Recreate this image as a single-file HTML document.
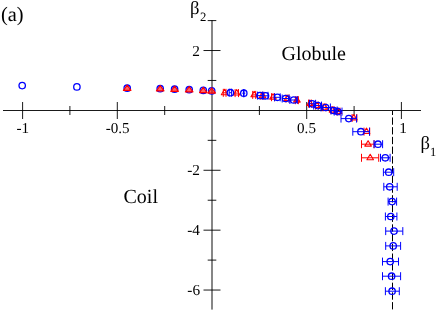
<!DOCTYPE html>
<html><head><meta charset="utf-8"><title>Phase diagram</title>
<style>
html,body{margin:0;padding:0;background:#fff;}
svg{display:block;font-family:"Liberation Serif",serif;will-change:transform;opacity:0.999;}
text{text-rendering:geometricPrecision;}
</style></head>
<body>
<svg width="436" height="311" viewBox="0 0 436 311">
<rect width="436" height="311" fill="#fff"/>
<g>
<path d="M3 110.5H421" stroke="#000" stroke-width="0.9"/>
<path d="M212 20.1V309.6" stroke="#000" stroke-width="0.95"/>
<path d="M22.6 102.0V119.0" stroke="#000" stroke-width="0.9"/>
<path d="M69.9 106.0V115.0" stroke="#000" stroke-width="0.9"/>
<path d="M117.3 102.0V119.0" stroke="#000" stroke-width="0.9"/>
<path d="M164.7 106.0V115.0" stroke="#000" stroke-width="0.9"/>
<path d="M259.4 106.0V115.0" stroke="#000" stroke-width="0.9"/>
<path d="M306.7 102.0V119.0" stroke="#000" stroke-width="0.9"/>
<path d="M354.1 106.0V115.0" stroke="#000" stroke-width="0.9"/>
<path d="M401.4 102.0V119.0" stroke="#000" stroke-width="0.9"/>
<path d="M207.7 20.58H216.3" stroke="#000" stroke-width="0.9"/>
<path d="M203.5 50.52H220.5" stroke="#000" stroke-width="0.9"/>
<path d="M207.7 80.46H216.3" stroke="#000" stroke-width="0.9"/>
<path d="M207.7 140.34H216.3" stroke="#000" stroke-width="0.9"/>
<path d="M203.5 170.28H220.5" stroke="#000" stroke-width="0.9"/>
<path d="M207.7 200.22H216.3" stroke="#000" stroke-width="0.9"/>
<path d="M203.5 230.16H220.5" stroke="#000" stroke-width="0.9"/>
<path d="M207.7 260.1H216.3" stroke="#000" stroke-width="0.9"/>
<path d="M203.5 290.04H220.5" stroke="#000" stroke-width="0.9"/>
<path d="M392.5 111V309.4" stroke="#000" stroke-width="1.0" stroke-dasharray="7.3 2.42" stroke-dashoffset="3.3"/>
</g>
<g fill="#000">

<text x="1.0" y="21.2" font-size="20.4">(a)</text>
<text x="190.1" y="14" font-size="18.6">β</text>
<text x="199.9" y="21.1" font-size="12.7">2</text>
<text x="420.6" y="148.8" font-size="18.6">β</text>
<text x="430.1" y="155.6" font-size="12.5">1</text>
<text x="281.5" y="59.8" font-size="20">Globule</text>
<text x="123.5" y="203" font-size="20">Coil</text>
<g font-size="15.3">
<text x="199.9" y="55.5" text-anchor="end">2</text>
<text x="199.9" y="175.3" text-anchor="end">-2</text>
<text x="199.9" y="235.2" text-anchor="end">-4</text>
<text x="200.1" y="295.0" text-anchor="end">-6</text>
<text x="22.8" y="133.1" font-size="15.1" text-anchor="middle">-1</text>
<text x="117.7" y="133.1" font-size="15.1" text-anchor="middle">-0.5</text>
<text x="306.5" y="133.1" font-size="15.1" text-anchor="middle">0.5</text>
<text x="403" y="132.6" text-anchor="middle">1</text>
</g>

</g>
<g>
<circle cx="22.2" cy="85.6" r="3.2" stroke="#0000ff" stroke-width="1.3" fill="none"/>
<circle cx="76.9" cy="86.9" r="3.2" stroke="#0000ff" stroke-width="1.3" fill="none"/>
<circle cx="127.2" cy="88.2" r="3.2" stroke="#0000ff" stroke-width="1.3" fill="none"/>
<circle cx="160.2" cy="88.7" r="3.2" stroke="#0000ff" stroke-width="1.3" fill="none"/>
<circle cx="174.6" cy="89.2" r="3.2" stroke="#0000ff" stroke-width="1.3" fill="none"/>
<circle cx="189.2" cy="89.7" r="3.2" stroke="#0000ff" stroke-width="1.3" fill="none"/>
<circle cx="203.3" cy="90.4" r="3.2" stroke="#0000ff" stroke-width="1.3" fill="none"/>
<circle cx="211.7" cy="90.9" r="3.2" stroke="#0000ff" stroke-width="1.3" fill="none"/>
<path d="M127.2 85.1L131.0 90.4H123.4Z" stroke="#ff0000" stroke-width="1.1" stroke-linejoin="round" fill="#ff0000" fill-opacity="0.6"/>
<path d="M160.2 85.6L164.0 90.9H156.4Z" stroke="#ff0000" stroke-width="1.1" stroke-linejoin="round" fill="#ff0000" fill-opacity="0.6"/>
<path d="M174.6 86.1L178.4 91.4H170.8Z" stroke="#ff0000" stroke-width="1.1" stroke-linejoin="round" fill="#ff0000" fill-opacity="0.6"/>
<path d="M189.2 86.6L193.0 91.9H185.4Z" stroke="#ff0000" stroke-width="1.1" stroke-linejoin="round" fill="#ff0000" fill-opacity="0.6"/>
<path d="M203.3 87.3L207.1 92.6H199.5Z" stroke="#ff0000" stroke-width="1.1" stroke-linejoin="round" fill="#ff0000" fill-opacity="0.6"/>
<path d="M211.7 87.8L215.5 93.1H207.9Z" stroke="#ff0000" stroke-width="1.1" stroke-linejoin="round" fill="#ff0000" fill-opacity="0.6"/>
<path d="M223.3 92.8H226.0M223.3 88.8V96.8M226.0 88.8V96.8" stroke="#ff0000" stroke-width="1.0" fill="none"/>
<path d="M224.6 89.3L227.9 94.7H221.3Z" stroke="#ff0000" stroke-width="1.1" stroke-linejoin="round" fill="none"/>
<path d="M235.1 93.1H238.5M235.1 89.1V97.1M238.5 89.1V97.1" stroke="#ff0000" stroke-width="1.0" fill="none"/>
<path d="M236.7 89.6L240.0 95.0H233.4Z" stroke="#ff0000" stroke-width="1.1" stroke-linejoin="round" fill="none"/>
<path d="M252.7 94.9H255.7M252.7 90.9V98.9M255.7 90.9V98.9" stroke="#ff0000" stroke-width="1.0" fill="none"/>
<path d="M254.2 91.4L257.5 96.8H250.9Z" stroke="#ff0000" stroke-width="1.1" stroke-linejoin="round" fill="none"/>
<path d="M261.0 95.8H264.0M261.0 91.8V99.8M264.0 91.8V99.8" stroke="#ff0000" stroke-width="1.0" fill="none"/>
<path d="M262.5 92.3L265.8 97.7H259.2Z" stroke="#ff0000" stroke-width="1.1" stroke-linejoin="round" fill="none"/>
<path d="M271.5 97.2H274.5M271.5 93.2V101.2M274.5 93.2V101.2" stroke="#ff0000" stroke-width="1.0" fill="none"/>
<path d="M273.0 93.7L276.3 99.1H269.7Z" stroke="#ff0000" stroke-width="1.1" stroke-linejoin="round" fill="none"/>
<path d="M286.0 98.6H289.0M286.0 94.6V102.6M289.0 94.6V102.6" stroke="#ff0000" stroke-width="1.0" fill="none"/>
<path d="M287.5 95.1L290.8 100.5H284.2Z" stroke="#ff0000" stroke-width="1.1" stroke-linejoin="round" fill="none"/>
<path d="M295.4 100.2H298.4M295.4 96.2V104.2M298.4 96.2V104.2" stroke="#ff0000" stroke-width="1.0" fill="none"/>
<path d="M296.9 96.7L300.2 102.1H293.6Z" stroke="#ff0000" stroke-width="1.1" stroke-linejoin="round" fill="none"/>
<path d="M308.5 103.6H311.5M308.5 99.6V107.6M311.5 99.6V107.6" stroke="#ff0000" stroke-width="1.0" fill="none"/>
<path d="M310.0 100.1L313.3 105.5H306.7Z" stroke="#ff0000" stroke-width="1.1" stroke-linejoin="round" fill="none"/>
<path d="M315.5 105.6H318.5M315.5 101.6V109.6M318.5 101.6V109.6" stroke="#ff0000" stroke-width="1.0" fill="none"/>
<path d="M317.0 102.1L320.3 107.5H313.7Z" stroke="#ff0000" stroke-width="1.1" stroke-linejoin="round" fill="none"/>
<path d="M323.0 107.4H326.0M323.0 103.4V111.4M326.0 103.4V111.4" stroke="#ff0000" stroke-width="1.0" fill="none"/>
<path d="M324.5 103.9L327.8 109.3H321.2Z" stroke="#ff0000" stroke-width="1.1" stroke-linejoin="round" fill="none"/>
<path d="M331.0 110.2H334.0M331.0 106.2V114.2M334.0 106.2V114.2" stroke="#ff0000" stroke-width="1.0" fill="none"/>
<path d="M332.5 106.7L335.8 112.1H329.2Z" stroke="#ff0000" stroke-width="1.1" stroke-linejoin="round" fill="none"/>
<path d="M337.0 111.6H340.0M337.0 107.6V115.6M340.0 107.6V115.6" stroke="#ff0000" stroke-width="1.0" fill="none"/>
<path d="M338.5 108.1L341.8 113.5H335.2Z" stroke="#ff0000" stroke-width="1.1" stroke-linejoin="round" fill="none"/>
<path d="M352.1 118.0H356.8M352.1 114.0V122.0M356.8 114.0V122.0" stroke="#ff0000" stroke-width="1.0" fill="none"/>
<path d="M353.8 114.5L357.1 119.9H350.5Z" stroke="#ff0000" stroke-width="1.1" stroke-linejoin="round" fill="none"/>
<path d="M364.0 131.6H369.7M364.0 127.6V135.6M369.7 127.6V135.6" stroke="#ff0000" stroke-width="1.0" fill="none"/>
<path d="M366.5 128.1L369.8 133.5H363.2Z" stroke="#ff0000" stroke-width="1.1" stroke-linejoin="round" fill="none"/>
<path d="M361.5 144.2H374.1M361.5 140.2V148.2M374.1 140.2V148.2" stroke="#ff0000" stroke-width="1.0" fill="none"/>
<path d="M368.1 140.7L371.4 146.1H364.8Z" stroke="#ff0000" stroke-width="1.1" stroke-linejoin="round" fill="none"/>
<path d="M361.5 157.8H378.7M361.5 153.8V161.8M378.7 153.8V161.8" stroke="#ff0000" stroke-width="1.0" fill="none"/>
<path d="M370.2 154.3L373.5 159.7H366.9Z" stroke="#ff0000" stroke-width="1.1" stroke-linejoin="round" fill="none"/>
<path d="M229.2 92.7H231.6M229.2 88.7V96.7M231.6 88.7V96.7" stroke="#0000ff" stroke-width="1.0" fill="none"/>
<circle cx="230.4" cy="92.7" r="3.2" stroke="#0000ff" stroke-width="1.3" fill="none"/>
<path d="M243.5 93.2H244.1M243.5 89.2V97.2M244.1 89.2V97.2" stroke="#0000ff" stroke-width="1.0" fill="none"/>
<circle cx="243.8" cy="93.2" r="3.2" stroke="#0000ff" stroke-width="1.3" fill="none"/>
<path d="M257.6 95.6H262.6M257.6 91.6V99.6M262.6 91.6V99.6" stroke="#0000ff" stroke-width="1.0" fill="none"/>
<circle cx="260.0" cy="95.6" r="3.2" stroke="#0000ff" stroke-width="1.3" fill="none"/>
<path d="M263.0 95.8H268.0M263.0 91.8V99.8M268.0 91.8V99.8" stroke="#0000ff" stroke-width="1.0" fill="none"/>
<circle cx="265.5" cy="95.8" r="3.2" stroke="#0000ff" stroke-width="1.3" fill="none"/>
<path d="M274.6 97.3H280.2M274.6 93.3V101.3M280.2 93.3V101.3" stroke="#0000ff" stroke-width="1.0" fill="none"/>
<circle cx="277.4" cy="97.3" r="3.2" stroke="#0000ff" stroke-width="1.3" fill="none"/>
<path d="M282.2 98.5H289.0M282.2 94.5V102.5M289.0 94.5V102.5" stroke="#0000ff" stroke-width="1.0" fill="none"/>
<circle cx="285.6" cy="98.5" r="3.2" stroke="#0000ff" stroke-width="1.3" fill="none"/>
<path d="M289.9 100.0H297.3M289.9 96.0V104.0M297.3 96.0V104.0" stroke="#0000ff" stroke-width="1.0" fill="none"/>
<circle cx="293.7" cy="100.0" r="3.2" stroke="#0000ff" stroke-width="1.3" fill="none"/>
<path d="M309.5 103.8H315.6M309.5 99.8V107.8M315.6 99.8V107.8" stroke="#0000ff" stroke-width="1.0" fill="none"/>
<circle cx="312.2" cy="103.8" r="3.2" stroke="#0000ff" stroke-width="1.3" fill="none"/>
<path d="M313.7 105.6H321.5M313.7 101.6V109.6M321.5 101.6V109.6" stroke="#0000ff" stroke-width="1.0" fill="none"/>
<circle cx="317.8" cy="105.6" r="3.2" stroke="#0000ff" stroke-width="1.3" fill="none"/>
<path d="M321.0 107.5H330.4M321.0 103.5V111.5M330.4 103.5V111.5" stroke="#0000ff" stroke-width="1.0" fill="none"/>
<circle cx="325.6" cy="107.5" r="3.2" stroke="#0000ff" stroke-width="1.3" fill="none"/>
<path d="M331.0 110.5H337.2M331.0 106.5V114.5M337.2 106.5V114.5" stroke="#0000ff" stroke-width="1.0" fill="none"/>
<circle cx="333.7" cy="110.5" r="3.2" stroke="#0000ff" stroke-width="1.3" fill="none"/>
<path d="M334.2 111.6H342.0M334.2 107.6V115.6M342.0 107.6V115.6" stroke="#0000ff" stroke-width="1.0" fill="none"/>
<circle cx="337.7" cy="111.6" r="3.2" stroke="#0000ff" stroke-width="1.3" fill="none"/>
<path d="M341.0 118.6H356.6M341.0 114.6V122.6M356.6 114.6V122.6" stroke="#0000ff" stroke-width="1.0" fill="none"/>
<circle cx="348.8" cy="118.6" r="3.2" stroke="#0000ff" stroke-width="1.3" fill="none"/>
<path d="M352.8 131.7H369.5M352.8 127.7V135.7M369.5 127.7V135.7" stroke="#0000ff" stroke-width="1.0" fill="none"/>
<circle cx="360.9" cy="131.7" r="3.2" stroke="#0000ff" stroke-width="1.3" fill="none"/>
<path d="M374.0 144.2H382.6M374.0 140.2V148.2M382.6 140.2V148.2" stroke="#0000ff" stroke-width="1.0" fill="none"/>
<circle cx="378.0" cy="144.2" r="3.2" stroke="#0000ff" stroke-width="1.3" fill="none"/>
<path d="M380.5 157.8H390.1M380.5 153.8V161.8M390.1 153.8V161.8" stroke="#0000ff" stroke-width="1.0" fill="none"/>
<circle cx="385.3" cy="157.8" r="3.2" stroke="#0000ff" stroke-width="1.3" fill="none"/>
<path d="M383.4 172.2H393.7M383.4 168.2V176.2M393.7 168.2V176.2" stroke="#0000ff" stroke-width="1.0" fill="none"/>
<circle cx="388.7" cy="172.2" r="3.2" stroke="#0000ff" stroke-width="1.3" fill="none"/>
<path d="M383.8 186.8H397.2M383.8 182.8V190.8M397.2 182.8V190.8" stroke="#0000ff" stroke-width="1.0" fill="none"/>
<circle cx="389.7" cy="186.8" r="3.2" stroke="#0000ff" stroke-width="1.3" fill="none"/>
<path d="M388.1 201.6H396.6M388.1 197.6V205.6M396.6 197.6V205.6" stroke="#0000ff" stroke-width="1.0" fill="none"/>
<circle cx="392.1" cy="201.6" r="3.2" stroke="#0000ff" stroke-width="1.3" fill="none"/>
<path d="M385.4 216.5H396.9M385.4 212.5V220.5M396.9 212.5V220.5" stroke="#0000ff" stroke-width="1.0" fill="none"/>
<circle cx="390.8" cy="216.5" r="3.2" stroke="#0000ff" stroke-width="1.3" fill="none"/>
<path d="M385.7 231.1H402.8M385.7 227.1V235.1M402.8 227.1V235.1" stroke="#0000ff" stroke-width="1.0" fill="none"/>
<circle cx="394.0" cy="231.1" r="3.2" stroke="#0000ff" stroke-width="1.3" fill="none"/>
<path d="M385.7 245.9H400.6M385.7 241.9V249.9M400.6 241.9V249.9" stroke="#0000ff" stroke-width="1.0" fill="none"/>
<circle cx="393.2" cy="245.9" r="3.2" stroke="#0000ff" stroke-width="1.3" fill="none"/>
<path d="M382.5 261.6H398.5M382.5 257.6V265.6M398.5 257.6V265.6" stroke="#0000ff" stroke-width="1.0" fill="none"/>
<circle cx="390.2" cy="261.6" r="3.2" stroke="#0000ff" stroke-width="1.3" fill="none"/>
<path d="M382.5 276.2H400.6M382.5 272.2V280.2M400.6 272.2V280.2" stroke="#0000ff" stroke-width="1.0" fill="none"/>
<circle cx="391.6" cy="276.2" r="3.2" stroke="#0000ff" stroke-width="1.3" fill="none"/>
<path d="M385.4 291.2H399.3M385.4 287.2V295.2M399.3 287.2V295.2" stroke="#0000ff" stroke-width="1.0" fill="none"/>
<circle cx="392.1" cy="291.2" r="3.2" stroke="#0000ff" stroke-width="1.3" fill="none"/>
<path d="M242.3 93.2H245.3" stroke="#0000ff" stroke-width="1"/>
</g>
</svg>
</body></html>
